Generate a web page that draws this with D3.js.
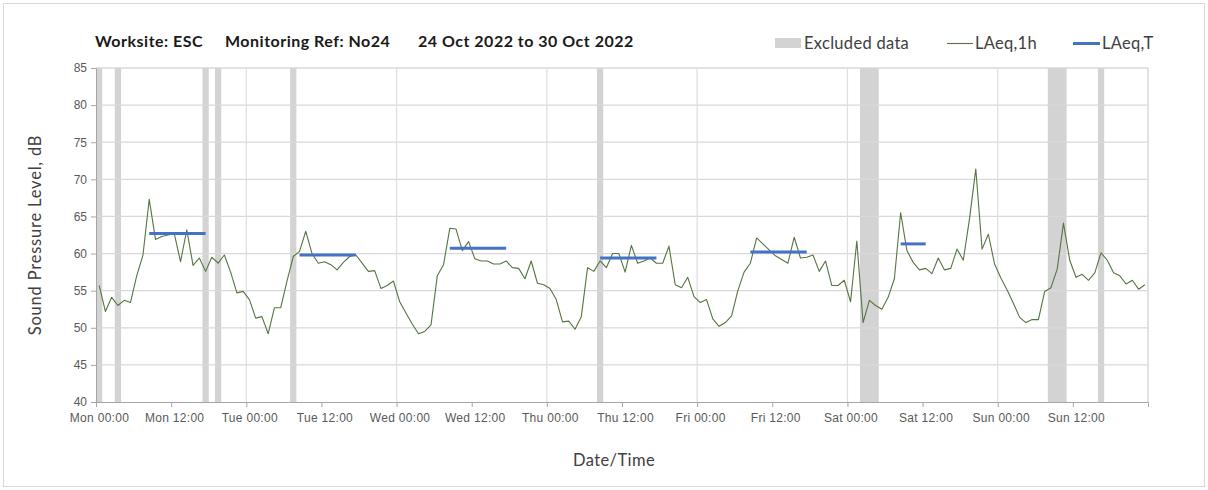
<!DOCTYPE html>
<html>
<head>
<meta charset="utf-8">
<script src="https://cdn.jsdelivr.net/npm/d3@7"></script>
<style>
  body { margin: 0; background: #fff; }
  svg { display: block; font-family: Lato, "Noto Sans", sans-serif; }
</style>
</head>
<body>
<div id="chart"></div>
<script>
// hourly LAeq,1h values, 24 Oct 2022 00:00 .. 30 Oct 2022 23:00
const laeq1h = [
  55.7, 52.2, 54.1, 53.0, 53.7, 53.4, 57.0, 59.8, 67.3, 61.9, 62.3, 62.5, 62.7, 58.9, 63.2, 58.4, 59.4, 57.6, 59.5, 58.7, 59.8, 57.5, 54.7, 54.9,
  53.8, 51.3, 51.5, 49.2, 52.7, 52.7, 56.3, 59.6, 60.3, 63.0, 60.0, 58.7, 58.9, 58.5, 57.8, 58.8, 59.6, 59.8, 58.7, 57.6, 57.7, 55.3, 55.7, 56.3,
  53.5, 52.0, 50.5, 49.2, 49.5, 50.4, 57.0, 58.5, 63.4, 63.3, 60.4, 61.6, 59.3, 59.0, 59.0, 58.6, 58.6, 59.0, 58.1, 58.0, 56.6, 59.0, 56.0, 55.8,
  55.3, 53.8, 50.8, 50.9, 49.8, 51.5, 58.1, 57.6, 59.0, 58.1, 60.0, 60.0, 57.5, 61.1, 58.7, 59.0, 59.4, 58.7, 58.7, 61.0, 55.8, 55.4, 56.8, 54.2,
  53.4, 53.8, 51.2, 50.2, 50.7, 51.6, 55.0, 57.5, 58.7, 62.1, 61.3, 60.5, 59.7, 59.2, 58.7, 62.2, 59.4, 59.5, 59.8, 57.6, 59.0, 55.7, 55.7, 56.4,
  53.5, 61.7, 50.7, 53.7, 53.0, 52.5, 54.1, 56.6, 65.5, 60.4, 58.8, 57.8, 58.0, 57.3, 59.4, 57.8, 58.0, 60.6, 59.1, 64.7, 71.4, 60.6, 62.6, 58.6,
  56.7, 55.1, 53.3, 51.4, 50.7, 51.1, 51.1, 54.9, 55.4, 57.9, 64.1, 59.1, 56.8, 57.2, 56.4, 57.4, 60.1, 59.1, 57.4, 57.0, 55.9, 56.4, 55.2, 55.8
];

// hours (index from Mon 00:00) flagged as excluded
const excludedHours = [0, 3, 17, 19, 31, 80, 122, 123, 124, 152, 153, 154, 160];

// LAeq,T periods: first and last hour of each period, and the level
const laeqTFirst = [8, 32, 56, 80, 104, 128];
const laeqTLast = [17, 41, 65, 89, 113, 132];
const laeqTValues = [62.7, 59.8, 60.7, 59.4, 60.2, 61.3];

const yTicks = [40, 45, 50, 55, 60, 65, 70, 75, 80, 85];
const dayNames = ["Mon", "Tue", "Wed", "Thu", "Fri", "Sat", "Sun"];

const width = 1208, height = 490;
const margin = { top: 68, right: 60, bottom: 88, left: 96 };

const svg = d3.select("#chart").append("svg")
  .attr("width", width)
  .attr("height", height);

// faint outer frame
svg.append("rect")
  .attr("x", 3.5).attr("y", 3.5)
  .attr("width", width - 7).attr("height", height - 7)
  .attr("fill", "none").attr("stroke", "#d9d9d9");

const x = d3.scaleLinear()
  .domain([0, 168])
  .range([margin.left, width - margin.right]);

const y = d3.scaleLinear()
  .domain([40, 85])
  .range([height - margin.bottom, margin.top]);

const plot = svg.append("g");

// merge consecutive excluded hours into single bands
const bands = [];
excludedHours.forEach(h => {
  const last = bands[bands.length - 1];
  if (last && last[1] === h) last[1] = h + 1;
  else bands.push([h, h + 1]);
});

plot.selectAll("rect.excl")
  .data(bands)
  .enter().append("rect")
  .attr("class", "excl")
  .attr("x", d => x(d[0]))
  .attr("width", d => x(d[1]) - x(d[0]))
  .attr("y", y(85))
  .attr("height", y(40) - y(85))
  .attr("fill", "#d3d3d3");

// horizontal gridlines
plot.selectAll("line.hgrid")
  .data(yTicks.filter(d => d > 40))
  .enter().append("line")
  .attr("class", "hgrid")
  .attr("x1", x(0)).attr("x2", x(168))
  .attr("y1", d => y(d)).attr("y2", d => y(d))
  .attr("stroke", "#d9d9d9").attr("stroke-width", 1.3);

// vertical gridlines at midnight
plot.selectAll("line.vgrid")
  .data(d3.range(24, 169, 24))
  .enter().append("line")
  .attr("class", "vgrid")
  .attr("x1", d => x(d)).attr("x2", d => x(d))
  .attr("y1", y(85)).attr("y2", y(40))
  .attr("stroke", "#e0e0e0").attr("stroke-width", 1.3);

// axes
const hourTicks = d3.range(0, 168, 12);
const xAxis = d3.axisBottom(x)
  .tickValues(hourTicks)
  .tickSize(5)
  .tickFormat(h => dayNames[Math.floor(h / 24)] + " " + (h % 24 === 0 ? "00:00" : "12:00"));

const gx = svg.append("g")
  .attr("transform", `translate(0,${y(40)})`)
  .call(xAxis);
gx.select(".domain").attr("stroke", "#a6a6a6");
gx.selectAll(".tick line").attr("stroke", "#a6a6a6");
gx.selectAll(".tick text")
  .attr("dx", 3).attr("dy", "1.0em")
  .attr("fill", "#595959")
  .style("font-size", "12px")
  .style("letter-spacing", "0.3px");

const yAxis = d3.axisLeft(y)
  .tickValues(yTicks)
  .tickSize(5)
  .tickFormat(d3.format("d"));

const gy = svg.append("g")
  .attr("transform", `translate(${x(0)},0)`)
  .call(yAxis);
gy.select(".domain").attr("stroke", "#a6a6a6");
gy.selectAll(".tick line").attr("stroke", "#a6a6a6");
gy.selectAll(".tick text")
  .attr("x", -9)
  .attr("fill", "#595959")
  .style("font-size", "12px");

// right edge of plot area
svg.append("line")
  .attr("x1", x(168)).attr("x2", x(168))
  .attr("y1", y(85)).attr("y2", y(40))
  .attr("stroke", "#d9d9d9");

// LAeq,1h line, points at the middle of each hour
const line = d3.line()
  .x((d, i) => x(i + 0.5))
  .y(d => y(d));

plot.append("path")
  .datum(laeq1h)
  .attr("d", line)
  .attr("fill", "none")
  .attr("stroke", "#557542")
  .attr("stroke-width", 1.1)
  .attr("stroke-linejoin", "round");

// LAeq,T bars
plot.selectAll("line.laeqt")
  .data(laeqTValues)
  .enter().append("line")
  .attr("class", "laeqt")
  .attr("x1", (d, i) => x(laeqTFirst[i] + 0.5))
  .attr("x2", (d, i) => x(laeqTLast[i] + 0.5))
  .attr("y1", d => y(d)).attr("y2", d => y(d))
  .attr("stroke", "#4472c4")
  .attr("stroke-width", 3);

// title
const title = svg.append("g")
  .attr("font-weight", "bold").attr("font-size", "16px")
  .style("letter-spacing", "0.5px")
  .attr("fill", "#1a1a1a");
title.append("text").attr("x", 95).attr("y", 47).text("Worksite: ESC");
title.append("text").attr("x", 225).attr("y", 47).text("Monitoring Ref: No24");
title.append("text").attr("x", 418).attr("y", 47).text("24 Oct 2022 to 30 Oct 2022");

// legend
const legend = svg.append("g")
  .attr("font-size", "16.5px").style("letter-spacing", "0.3px")
  .attr("fill", "#404040");
legend.append("rect").attr("x", 775).attr("y", 38).attr("width", 26).attr("height", 10).attr("fill", "#d3d3d3");
legend.append("text").attr("x", 804).attr("y", 49).text("Excluded data");
legend.append("line").attr("x1", 947).attr("x2", 973).attr("y1", 43.5).attr("y2", 43.5)
  .attr("stroke", "#557542").attr("stroke-width", 1.1);
legend.append("text").attr("x", 975).attr("y", 49).text("LAeq,1h");
legend.append("line").attr("x1", 1073).attr("x2", 1100).attr("y1", 43.5).attr("y2", 43.5)
  .attr("stroke", "#4472c4").attr("stroke-width", 3);
legend.append("text").attr("x", 1102).attr("y", 49).text("LAeq,T");

// axis titles
svg.append("text")
  .attr("x", 614).attr("y", 466)
  .attr("text-anchor", "middle")
  .attr("font-size", "16.5px").style("letter-spacing", "0.4px")
  .attr("fill", "#404040")
  .text("Date/Time");

svg.append("text")
  .attr("transform", `translate(41,${(y(40) + y(85)) / 2}) rotate(-90)`)
  .attr("text-anchor", "middle")
  .attr("font-size", "16.5px").style("letter-spacing", "0.8px")
  .attr("fill", "#404040")
  .text("Sound Pressure Level, dB");
</script>
</body>
</html>
